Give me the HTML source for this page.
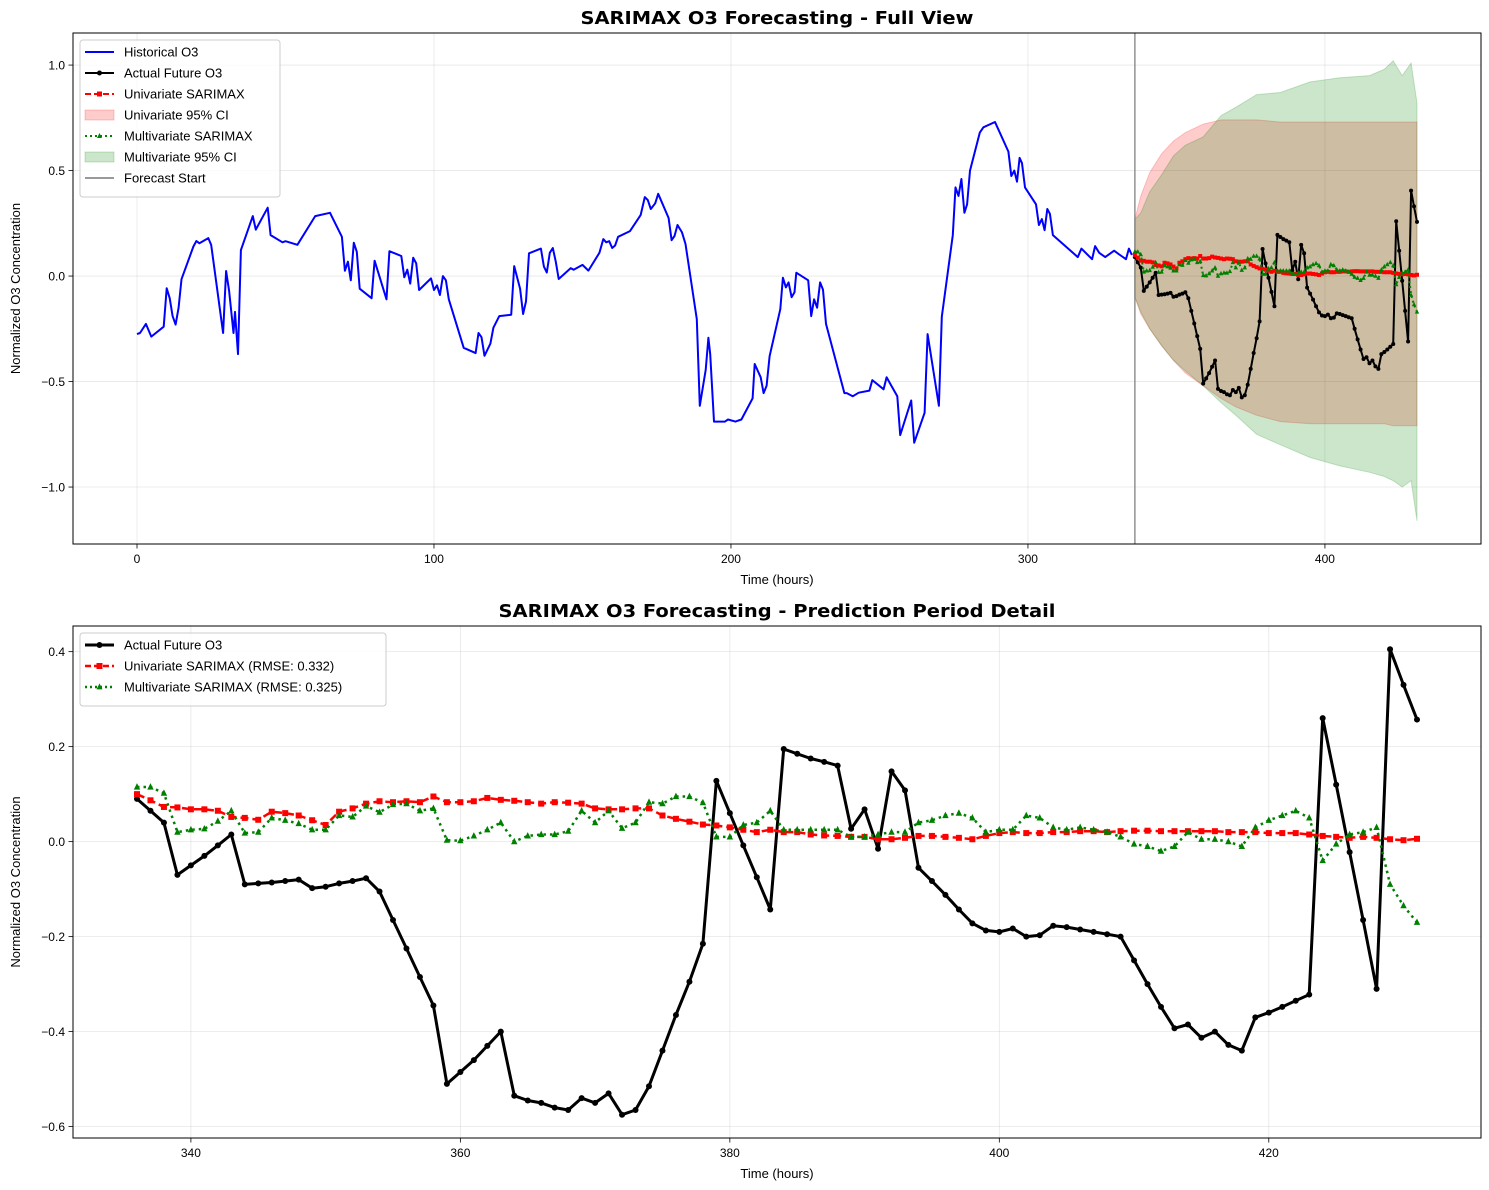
<!DOCTYPE html>
<html><head><meta charset="utf-8"><title>SARIMAX O3 Forecasting</title>
<style>
html,body{margin:0;padding:0;background:#fff;}
svg{display:block;font-family:"Liberation Sans","DejaVu Sans",sans-serif;}
</style></head>
<body>
<svg id="chart" width="1489" height="1190" viewBox="0 0 1489 1190" xmlns="http://www.w3.org/2000/svg">
<rect x="0" y="0" width="1489" height="1190" fill="#fff"/>
</svg>
<script>
// ---------- DATA ----------
const histHours = [0,1,3,4.8,9,10,11,12,13,14,15,19,20,21,24,25,29,30,31,32.5,33,34,35,39,40,44,45,49,50,54,60,65,69,70,71,72,73,74,75,79,80,84,85,89,90,91,92,93,94,95,99,100,101,102,103,104,105,110,114,115,116,117,119,120,122,126,127,129,130,131,132,136,137,138,139,140,141,142,146,147,150,152,155.7,157,158,159,160,161,162,166,169.6,171,172,173,174.5,175.5,179,180,181,182,183.5,184.7,188.5,189.5,191.5,192.4,193,194.3,198,199,201.5,203.5,207.3,208,210,211,212,213,216.6,217.5,218.5,219.4,220.4,221.4,222,226,227,228,229,230,231,232,238.2,239,241,243,246.6,247.6,251.4,252.4,256,257,260.7,261.7,265.2,266.2,270,271,274.7,275.6,276.6,277.6,278.6,279.5,280.5,283.8,285,288.9,293.4,294.4,295.4,296.3,297.2,298,299,302.7,303.7,304.7,305.6,306.5,307.4,308.4,316.8,318,321.6,322.6,324,326,329,331,333,334,335];
const histValues = [-0.275,-0.27,-0.227,-0.287,-0.24,-0.058,-0.105,-0.19,-0.23,-0.15,-0.015,0.14,0.166,0.155,0.18,0.147,-0.27,0.024,-0.07,-0.27,-0.17,-0.37,0.123,0.284,0.22,0.324,0.194,0.16,0.165,0.148,0.284,0.30,0.186,0.025,0.068,-0.02,0.158,0.115,-0.06,-0.105,0.073,-0.11,0.118,0.095,-0.006,0.03,-0.036,0.087,0.06,-0.066,-0.011,-0.066,-0.044,-0.09,0.0,-0.02,-0.11,-0.34,-0.365,-0.27,-0.29,-0.378,-0.32,-0.245,-0.19,-0.183,0.047,-0.06,-0.18,-0.12,0.108,0.13,0.045,0.017,0.11,0.133,0.07,-0.014,0.037,0.03,0.053,0.026,0.11,0.175,0.16,0.165,0.133,0.145,0.186,0.213,0.29,0.374,0.36,0.318,0.345,0.39,0.275,0.17,0.19,0.242,0.207,0.152,-0.204,-0.615,-0.445,-0.292,-0.37,-0.69,-0.69,-0.68,-0.69,-0.68,-0.58,-0.417,-0.48,-0.555,-0.52,-0.38,-0.157,-0.008,-0.054,-0.03,-0.1,-0.077,0.016,-0.02,-0.19,-0.11,-0.15,-0.03,-0.065,-0.227,-0.555,-0.555,-0.57,-0.553,-0.543,-0.493,-0.537,-0.48,-0.57,-0.754,-0.59,-0.79,-0.648,-0.275,-0.615,-0.193,0.194,0.42,0.38,0.46,0.3,0.34,0.50,0.68,0.705,0.73,0.59,0.474,0.50,0.447,0.56,0.535,0.42,0.34,0.242,0.27,0.218,0.318,0.295,0.194,0.09,0.13,0.08,0.142,0.11,0.09,0.12,0.10,0.08,0.13,0.10];
const fcStartHour = 336;
const actualValues = [0.09,0.065,0.04,-0.07,-0.05,-0.03,-0.008,0.015,-0.09,-0.088,-0.086,-0.083,-0.08,-0.098,-0.095,-0.088,-0.083,-0.077,-0.105,-0.165,-0.225,-0.285,-0.345,-0.51,-0.485,-0.46,-0.43,-0.40,-0.535,-0.545,-0.55,-0.56,-0.565,-0.54,-0.55,-0.53,-0.575,-0.565,-0.515,-0.44,-0.365,-0.295,-0.215,0.128,0.06,-0.008,-0.075,-0.143,0.195,0.185,0.175,0.168,0.16,0.027,0.068,-0.015,0.148,0.108,-0.055,-0.083,-0.112,-0.143,-0.172,-0.187,-0.19,-0.183,-0.2,-0.197,-0.177,-0.18,-0.185,-0.19,-0.195,-0.2,-0.25,-0.3,-0.348,-0.393,-0.385,-0.413,-0.4,-0.428,-0.44,-0.37,-0.36,-0.348,-0.335,-0.322,0.26,0.12,-0.022,-0.165,-0.31,0.405,0.33,0.257];
const uniValues = [0.1,0.087,0.073,0.072,0.068,0.068,0.065,0.052,0.05,0.046,0.063,0.06,0.055,0.045,0.035,0.063,0.07,0.08,0.085,0.083,0.085,0.083,0.095,0.083,0.083,0.085,0.092,0.088,0.086,0.083,0.08,0.083,0.082,0.08,0.07,0.068,0.068,0.07,0.07,0.055,0.048,0.042,0.036,0.034,0.03,0.025,0.02,0.025,0.02,0.02,0.015,0.013,0.012,0.01,0.01,0.005,0.005,0.008,0.012,0.012,0.01,0.008,0.005,0.012,0.018,0.02,0.018,0.018,0.02,0.02,0.022,0.022,0.02,0.022,0.023,0.023,0.022,0.022,0.022,0.022,0.022,0.02,0.02,0.02,0.018,0.018,0.018,0.015,0.012,0.01,0.008,0.01,0.008,0.005,0.003,0.006];
const multiValues = [0.115,0.115,0.102,0.02,0.025,0.027,0.043,0.065,0.018,0.02,0.05,0.045,0.038,0.025,0.025,0.055,0.052,0.075,0.062,0.078,0.08,0.065,0.07,0.003,0.002,0.012,0.025,0.04,0.0,0.012,0.015,0.015,0.022,0.065,0.04,0.065,0.028,0.04,0.083,0.08,0.095,0.095,0.082,0.01,0.01,0.035,0.04,0.065,0.025,0.025,0.025,0.025,0.025,0.01,0.01,0.015,0.02,0.02,0.04,0.045,0.055,0.06,0.05,0.02,0.025,0.025,0.055,0.05,0.03,0.025,0.03,0.025,0.02,0.01,-0.005,-0.01,-0.02,-0.01,0.02,0.005,0.005,0.0,-0.01,0.03,0.045,0.055,0.065,0.05,-0.04,-0.005,0.015,0.02,0.03,-0.09,-0.135,-0.17];
const ciHours = [336,338,341,345,349,353,359,365,370,377,385,395,405,415,420,423,426,429,431];
const uniUpper = [0.27,0.38,0.49,0.58,0.64,0.68,0.72,0.74,0.74,0.74,0.73,0.73,0.73,0.73,0.73,0.73,0.73,0.73,0.73];
const uniLower = [-0.1,-0.18,-0.25,-0.33,-0.40,-0.46,-0.52,-0.58,-0.62,-0.66,-0.69,-0.70,-0.70,-0.70,-0.70,-0.71,-0.71,-0.71,-0.71];
const multiUpper = [0.27,0.30,0.40,0.48,0.57,0.62,0.66,0.76,0.80,0.86,0.87,0.92,0.94,0.95,0.98,1.02,0.95,1.01,0.82];
const multiLower = [-0.1,-0.17,-0.25,-0.33,-0.40,-0.45,-0.52,-0.60,-0.66,-0.75,-0.80,-0.86,-0.90,-0.93,-0.95,-0.97,-1.0,-0.97,-1.16];
const topXTicks = [0,100,200,300,400];
const topYTicks = [1.0,0.5,0.0,-0.5,-1.0];
const botXTicks = [340,360,380,400,420];
const botYTicks = [0.4,0.2,0.0,-0.2,-0.4,-0.6];

// ---------- HELPERS ----------
const NS = 'http://www.w3.org/2000/svg';
const svgRoot = document.getElementById('chart');
function mk(tag, attrs, parent){
  const e = document.createElementNS(NS, tag);
  for (const k in attrs) e.setAttribute(k, attrs[k]);
  (parent||svgRoot).appendChild(e);
  return e;
}
function fmt(v){ const s = (Math.abs(v)<1e-9?0:v).toFixed(1); return s.replace('-', '\u2212'); }
const futureHours = actualValues.map((_, i) => fcStartHour + i);

function makeAxes(box, xlim, ylim, name){
  const xs = h => box.x + (h - xlim[0]) / (xlim[1] - xlim[0]) * box.w;
  const ys = v => box.y + (ylim[1] - v) / (ylim[1] - ylim[0]) * box.h;
  const g = mk('g', {});
  
  
  return {xs, ys, g, box};
}
function grid(ax, xt, yt){
  const gg = mk('g', {}, ax.g);
  
  
  xt.forEach(t => mk('line', {x1:ax.xs(t), x2:ax.xs(t), y1:ax.box.y, y2:ax.box.y+ax.box.h, stroke:'#b0b0b0', 'stroke-opacity':0.3, 'stroke-width':0.8}, gg));
  yt.forEach(t => mk('line', {x1:ax.box.x, x2:ax.box.x+ax.box.w, y1:ax.ys(t), y2:ax.ys(t), stroke:'#b0b0b0', 'stroke-opacity':0.3, 'stroke-width':0.8}, gg));
}
function ticks(ax, xt, yt, yfmt){
  const tg = mk('g', {}, ax.g);
  
  
  const by = ax.box.y + ax.box.h;
  xt.forEach(t => {
    mk('line', {x1:ax.xs(t), x2:ax.xs(t), y1:by, y2:by+4.5, stroke:'#000', 'stroke-width':0.8}, tg);
    const tx = mk('text', {x:ax.xs(t), y:by+19, 'font-size':12, 'text-anchor':'middle', fill:'#000'}, tg);
    
    
    tx.textContent = String(t);
  });
  yt.forEach(t => {
    mk('line', {x1:ax.box.x-4.5, x2:ax.box.x, y1:ax.ys(t), y2:ax.ys(t), stroke:'#000', 'stroke-width':0.8}, tg);
    const tx = mk('text', {x:ax.box.x-8, y:ax.ys(t)+4.5, 'font-size':12, 'text-anchor':'end', fill:'#000'}, tg);
    
    
    tx.textContent = yfmt(t);
  });
}
function frame(ax){
  const r = mk('rect', {x:ax.box.x, y:ax.box.y, width:ax.box.w, height:ax.box.h, fill:'none', stroke:'#000', 'stroke-width':1}, ax.g);
  
  
}
function labels(ax, title, titleW, xl, yl){
  const cx = ax.box.x + ax.box.w/2;
  const t = mk('text', {x:cx, y:ax.box.y-9, 'font-size':18, 'font-weight':'bold', 'font-family':'"DejaVu Sans","Liberation Sans",sans-serif', 'text-anchor':'middle', textLength:titleW, lengthAdjust:'spacingAndGlyphs'}, ax.g);
  
  
  t.textContent = title;
  const x = mk('text', {x:cx, y:ax.box.y+ax.box.h+40, 'font-size':13, 'text-anchor':'middle'}, ax.g);
  
  
  x.textContent = xl;
  const cy = ax.box.y + ax.box.h/2;
  const y = mk('text', {x:0, y:0, 'font-size':13, 'text-anchor':'middle', transform:'translate(20,'+cy+') rotate(-90)'}, ax.g);
  
  
  y.textContent = yl;
}
function linePath(ax, hs, vs){
  return hs.map((h,i)=>(i?'L':'M')+ax.xs(h).toFixed(1)+','+ax.ys(vs[i]).toFixed(1)).join(' ');
}
function band(ax, hs, up, lo, color, name){
  let d = hs.map((h,i)=>(i?'L':'M')+ax.xs(h).toFixed(1)+','+ax.ys(up[i]).toFixed(1)).join(' ');
  for (let i=hs.length-1;i>=0;i--) d += ' L'+ax.xs(hs[i]).toFixed(1)+','+ax.ys(lo[i]).toFixed(1);
  const p = mk('path', {d:d+' Z', fill:color, 'fill-opacity':0.2, stroke:color, 'stroke-opacity':0.2, 'stroke-width':1}, ax.g);
  
  
}
function series(ax, hs, vs, opt, name){
  const sg = mk('g', {}, ax.g);
  
  
  const la = {d:linePath(ax,hs,vs), fill:'none', stroke:opt.color, 'stroke-width':opt.lw, 'stroke-linejoin':'round'};
  if (opt.dash) la['stroke-dasharray'] = opt.dash;
  mk('path', la, sg);
  if (!opt.marker) return;
  hs.forEach((h,i)=>{
    const x = ax.xs(h), y = ax.ys(vs[i]), s = opt.ms;
    let m;
    if (opt.marker==='o') m = mk('circle', {cx:x, cy:y, r:s, fill:opt.color}, sg);
    else if (opt.marker==='s') m = mk('rect', {x:x-s, y:y-s, width:2*s, height:2*s, fill:opt.color}, sg);
    else m = mk('path', {d:'M'+x+','+(y-s*1.2)+' L'+(x+s)+','+(y+s*0.8)+' L'+(x-s)+','+(y+s*0.8)+' Z', fill:opt.color}, sg);
    
    
  });
}
function legend(x, y, w, entries, parent){
  const lg = mk('g', {}, parent);
  
  
  mk('rect', {x:x, y:y, width:w, height:entries.length*21+10, rx:3, fill:'#fff', 'fill-opacity':0.8, stroke:'#ccc', 'stroke-width':1}, lg);
  entries.forEach((e,i)=>{
    const cy = y + 12 + i*21;
    const eg = mk('g', {}, lg);
    
    
    if (e.patch) mk('rect', {x:x+5, y:cy-5, width:29, height:10, fill:e.color, 'fill-opacity':0.2, stroke:e.color, 'stroke-opacity':0.2}, eg);
    else {
      const a = {x1:x+5, x2:x+34, y1:cy, y2:cy, stroke:e.color, 'stroke-width':e.lw};
      if (e.dash) a['stroke-dasharray'] = e.dash;
      mk('line', a, eg);
      const mx = x+19.5, s = e.ms;
      if (e.marker==='o') mk('circle', {cx:mx, cy:cy, r:s, fill:e.color}, eg);
      if (e.marker==='s') mk('rect', {x:mx-s, y:cy-s, width:2*s, height:2*s, fill:e.color}, eg);
      if (e.marker==='^') mk('path', {d:'M'+mx+','+(cy-s*1.2)+' L'+(mx+s)+','+(cy+s*0.8)+' L'+(mx-s)+','+(cy+s*0.8)+' Z', fill:e.color}, eg);
    }
    const t = mk('text', {x:x+44, y:cy+4.5, 'font-size':13, fill:'#000'}, eg);
    t.textContent = e.label;
  });
}

// ---------- TOP CHART ----------
const topAx = makeAxes({x:73, y:33, w:1408, h:511}, [-21.55, 452.55], [-1.27, 1.152], 'full-view-chart');
grid(topAx, topXTicks, topYTicks);
band(topAx, ciHours, uniUpper, uniLower, '#ff0000', 'univariate-ci-band');
band(topAx, ciHours, multiUpper, multiLower, '#008000', 'multivariate-ci-band');
series(topAx, histHours, histValues, {color:'#0000ff', lw:2}, 'historical-o3-line');
const fl = mk('line', {x1:topAx.xs(fcStartHour), x2:topAx.xs(fcStartHour), y1:33, y2:544, stroke:'#808080', 'stroke-opacity':0.8, 'stroke-width':1.6}, topAx.g);


series(topAx, futureHours, actualValues, {color:'#000', lw:2, marker:'o', ms:2}, 'actual-future-line');
series(topAx, futureHours, uniValues, {color:'#ff0000', lw:2, dash:'6,3', marker:'s', ms:2}, 'univariate-forecast-line');
series(topAx, futureHours, multiValues, {color:'#008000', lw:2, dash:'2,3', marker:'^', ms:2.2}, 'multivariate-forecast-line');
frame(topAx);
ticks(topAx, topXTicks, topYTicks, fmt);
labels(topAx, 'SARIMAX O3 Forecasting - Full View', 393, 'Time (hours)', 'Normalized O3 Concentration');
legend(80, 40, 200, [
  {label:'Historical O3', color:'#0000ff', lw:2},
  {label:'Actual Future O3', color:'#000', lw:2, marker:'o', ms:2.5},
  {label:'Univariate SARIMAX', color:'#ff0000', lw:2, dash:'6,3', marker:'s', ms:2.5},
  {label:'Univariate 95% CI', color:'#ff0000', patch:true},
  {label:'Multivariate SARIMAX', color:'#008000', lw:2, dash:'2,3', marker:'^', ms:2.5},
  {label:'Multivariate 95% CI', color:'#008000', patch:true},
  {label:'Forecast Start', color:'#999', lw:2}
], topAx.g);

// ---------- BOTTOM CHART ----------
const botAx = makeAxes({x:73, y:626, w:1408, h:512}, [331.25, 435.75], [-0.624, 0.454], 'prediction-detail-chart');
grid(botAx, botXTicks, botYTicks);
series(botAx, futureHours, actualValues, {color:'#000', lw:3, marker:'o', ms:3}, 'actual-future-detail-line');
series(botAx, futureHours, uniValues, {color:'#ff0000', lw:2.5, dash:'8,4', marker:'s', ms:3}, 'univariate-detail-line');
series(botAx, futureHours, multiValues, {color:'#008000', lw:2.5, dash:'2.5,4', marker:'^', ms:3.2}, 'multivariate-detail-line');
frame(botAx);
ticks(botAx, botXTicks, botYTicks, fmt);
labels(botAx, 'SARIMAX O3 Forecasting - Prediction Period Detail', 557, 'Time (hours)', 'Normalized O3 Concentration');
legend(80, 633, 306, [
  {label:'Actual Future O3', color:'#000', lw:3, marker:'o', ms:3},
  {label:'Univariate SARIMAX (RMSE: 0.332)', color:'#ff0000', lw:2.5, dash:'6,3', marker:'s', ms:3},
  {label:'Multivariate SARIMAX (RMSE: 0.325)', color:'#008000', lw:2.5, dash:'2,3', marker:'^', ms:3}
], botAx.g);
</script>
</body></html>
